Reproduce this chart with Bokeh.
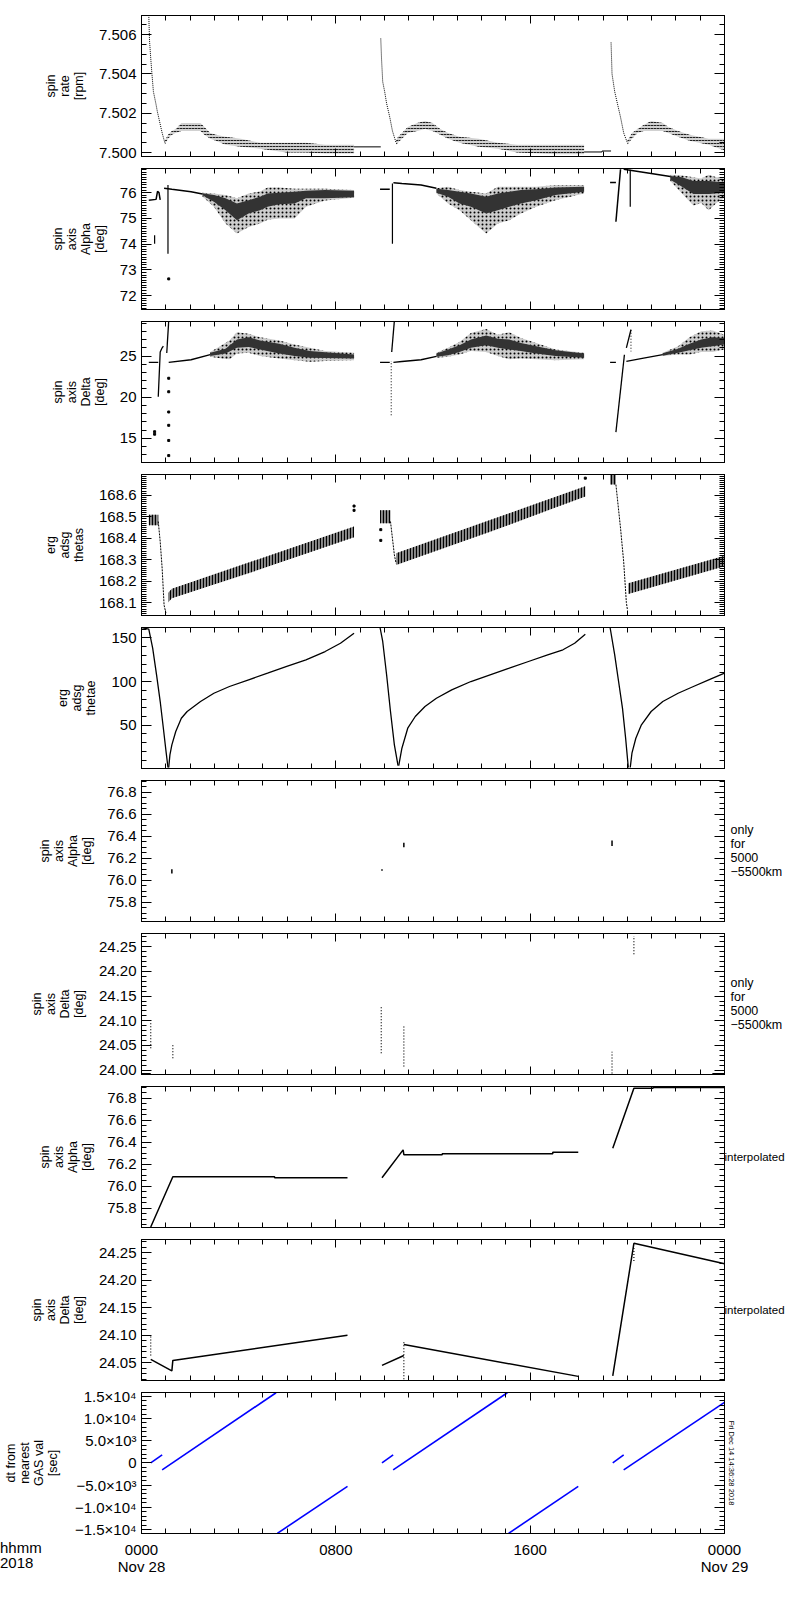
import math
from bokeh.plotting import figure
from bokeh.models import Range1d, LinearAxis, FixedTicker, PrintfTickFormatter, Div
from bokeh.layouts import column
from bokeh.embed import file_html
from bokeh.resources import INLINE

FONT = "Liberation Sans"

# ---------------- x axis (hours since 0000 Nov 28) ----------------
x_major = [0, 8, 16, 24]
x_minor = list(range(25))
x_labels = {0: "0000\nNov 28", 8: "0800", 16: "1600", 24: "0000\nNov 29"}
corner_label = "hhmm<br>2018"
stamp = "Fri Dec 14 14:36:28 2018"

# ---------------- panel 1: spin rate [rpm] ----------------
p1_d1_t = [0.30, 0.33, 0.38, 0.43, 0.49, 0.59, 0.65, 0.74, 0.85, 0.96]
p1_d1_v = [7.5070, 7.5057, 7.5048, 7.5040, 7.5031, 7.5025, 7.5021, 7.5016, 7.5010, 7.5005]
p1_b1_t = [0.96, 1.09, 1.25, 1.41, 1.64, 1.96, 2.43, 2.59, 2.83, 3.06, 3.46, 4.09, 4.88, 5.98, 6.77, 7.56, 8.75]
p1_b1_lo = [7.5004, 7.5007, 7.5009, 7.5010, 7.5011, 7.5011, 7.5011, 7.5009, 7.5007, 7.5006, 7.5004, 7.5003, 7.5002, 7.5000, 7.5000, 7.49995, 7.49995]
p1_b1_hi = [7.5006, 7.5009, 7.5011, 7.5012, 7.5015, 7.5015, 7.5015, 7.5013, 7.5010, 7.5009, 7.5008, 7.5007, 7.5005, 7.5005, 7.5005, 7.5004, 7.5004]
p1_c1_t = [8.75, 9.85]
p1_c1_v = [7.50029, 7.50029]
p1_d2_t = [9.85, 9.88, 9.93, 10.01, 10.09, 10.22, 10.33, 10.48]
p1_d2_v = [7.5058, 7.5048, 7.5036, 7.5031, 7.5025, 7.5018, 7.5011, 7.5005]
p1_b2_t = [10.48, 10.56, 10.72, 10.96, 11.35, 11.67, 11.98, 12.30, 12.62, 13.09, 13.88, 14.67, 15.46, 17.04, 18.22]
p1_b2_lo = [7.5004, 7.5005, 7.5007, 7.5010, 7.5011, 7.5012, 7.5011, 7.5009, 7.5007, 7.5005, 7.5003, 7.5002, 7.5000, 7.49992, 7.49992]
p1_b2_hi = [7.5006, 7.5008, 7.5010, 7.5013, 7.5015, 7.5016, 7.5015, 7.5012, 7.5010, 7.5008, 7.5007, 7.5005, 7.5004, 7.5004, 7.5004]
p1_c2_t = [18.22, 18.96, 18.96, 19.33]
p1_c2_v = [7.50003, 7.50003, 7.50008, 7.50008]
p1_d3_t = [19.33, 19.37, 19.48, 19.59, 19.72, 19.85, 20.00]
p1_d3_v = [7.5056, 7.5040, 7.5031, 7.5025, 7.5018, 7.5010, 7.5005]
p1_b3_t = [20.00, 20.19, 20.42, 20.67, 20.98, 21.46, 21.69, 22.09, 22.56, 23.35, 24.0]
p1_b3_lo = [7.5004, 7.5007, 7.5010, 7.5011, 7.5011, 7.5011, 7.5010, 7.5008, 7.5006, 7.5004, 7.5001]
p1_b3_hi = [7.5006, 7.5010, 7.5012, 7.5014, 7.5016, 7.5015, 7.5013, 7.5011, 7.5009, 7.5007, 7.5007]

# ---------------- panel 2: spin axis Alpha [deg] ----------------
p2_pre1_t = [0.30, 0.60, 0.66, 0.72, 0.77]
p2_pre1_v = [75.71, 75.74, 76.05, 76.00, 75.72]
p2_main1_t = [0.93, 1.25, 2.04, 2.51]
p2_main1_v = [76.17, 76.13, 76.04, 75.95]
p2_o1_t = [2.51, 2.98, 3.46, 3.93, 4.41, 4.88, 5.19, 5.67, 6.30, 6.77, 7.56, 8.75]
p2_o1_lo = [75.85, 75.45, 74.80, 74.41, 74.67, 74.80, 74.95, 75.00, 75.00, 75.45, 75.70, 75.80]
p2_o1_hi = [76.00, 75.97, 75.91, 75.78, 75.97, 76.05, 76.20, 76.20, 76.15, 76.15, 76.15, 76.10]
p2_i1_lo = [75.90, 75.65, 75.32, 74.93, 75.19, 75.32, 75.45, 75.55, 75.58, 75.78, 75.78, 75.82]
p2_i1_hi = [75.98, 75.91, 75.78, 75.58, 75.71, 75.84, 75.97, 76.00, 76.04, 76.08, 76.10, 76.08]
p2_pre2_t = [9.82, 10.22]
p2_pre2_v = [76.13, 76.13]
p2_main2_t = [10.37, 10.72, 11.51, 12.14]
p2_main2_v = [76.39, 76.36, 76.30, 76.17]
p2_o2_t = [12.14, 12.62, 13.09, 13.56, 14.19, 14.67, 15.14, 15.62, 16.25, 17.04, 18.22]
p2_o2_lo = [75.97, 75.58, 75.32, 74.93, 74.41, 74.80, 74.93, 75.19, 75.45, 75.71, 75.97]
p2_o2_hi = [76.17, 76.23, 76.10, 76.04, 75.97, 76.23, 76.23, 76.23, 76.23, 76.30, 76.30]
p2_i2_lo = [76.00, 75.84, 75.58, 75.45, 75.19, 75.32, 75.45, 75.58, 75.71, 75.91, 76.04]
p2_i2_hi = [76.15, 76.10, 76.04, 75.97, 75.84, 75.97, 76.04, 76.10, 76.13, 76.20, 76.23]
p2_pre3_t = [19.29, 19.53]
p2_pre3_v = [76.40, 76.40]
p2_rise3_t = [19.53, 19.72]
p2_rise3_v = [74.87, 76.91]
p2_main3_t = [19.85, 20.98, 21.77]
p2_main3_v = [76.91, 76.75, 76.63]
p2_o3_t = [21.77, 22.25, 22.72, 23.04, 23.35, 23.67, 24.0]
p2_o3_lo = [76.45, 75.97, 75.50, 75.60, 75.32, 75.60, 75.80]
p2_o3_hi = [76.70, 76.67, 76.60, 76.55, 76.70, 76.60, 76.55]
p2_i3_t = [21.77, 22.25, 22.72, 23.35, 24.0]
p2_i3_lo = [76.50, 76.23, 75.95, 75.95, 76.00]
p2_i3_hi = [76.65, 76.60, 76.45, 76.45, 76.40]
p2_drop_t = [1.09, 10.33, 20.12, 0.54]
p2_drop_hi = [76.30, 76.36, 76.89, 74.35]
p2_drop_lo = [73.63, 74.02, 75.45, 74.02]
p2_dot_t = [1.12]
p2_dot_v = [72.65]

# ---------------- panel 3: spin axis Delta [deg] ----------------
p3_pre1_t = [0.30, 0.69]
p3_pre1_v = [24.22, 24.22]
p3_riseA_t = [0.69, 0.77, 0.85, 0.90]
p3_riseA_v = [20.05, 25.5, 26.0, 26.2]
p3_riseB_t = [1.04, 1.12]
p3_riseB_v = [25.37, 29.3]
p3_dots_t = [1.12, 1.12, 1.12, 1.12, 1.12, 1.12, 0.54, 0.54]
p3_dots_v = [22.3, 20.66, 18.2, 16.58, 14.74, 12.9, 15.5, 15.8]
p3_main1_t = [1.12, 2.04, 2.83]
p3_main1_v = [24.22, 24.55, 25.16]
p3_o1_t = [2.83, 3.30, 3.62, 3.93, 4.41, 4.88, 5.67, 6.30, 6.93, 7.56, 8.75]
p3_o1_lo = [24.9, 24.7, 24.6, 25.3, 25.4, 25.0, 24.7, 24.5, 24.3, 24.4, 24.5]
p3_o1_hi = [25.5, 26.3, 26.9, 27.9, 27.7, 27.3, 26.9, 26.4, 26.0, 25.6, 25.4]
p3_i1_t = [2.83, 3.46, 3.93, 4.41, 4.88, 5.67, 6.30, 6.93, 8.75]
p3_i1_lo = [25.0, 25.3, 26.0, 26.1, 25.8, 25.3, 25.0, 24.8, 24.7]
p3_i1_hi = [25.4, 25.9, 27.0, 27.3, 26.9, 26.5, 26.0, 25.6, 25.2]
p3_pre2_t = [9.82, 10.22]
p3_pre2_v = [24.22, 24.22]
p3_dash2_t = [10.28, 10.28]
p3_dash2_v = [17.8, 24.4]
p3_rise2_t = [10.30, 10.41]
p3_rise2_v = [25.5, 29.3]
p3_main2_t = [10.37, 10.72, 11.51, 12.14]
p3_main2_v = [24.22, 24.34, 24.55, 24.95]
p3_o2_t = [12.14, 12.62, 13.09, 13.56, 14.19, 14.67, 15.14, 15.62, 16.25, 17.04, 18.22]
p3_o2_lo = [24.8, 24.9, 25.2, 25.6, 25.5, 25.0, 24.6, 24.7, 24.6, 24.5, 24.6]
p3_o2_hi = [25.4, 26.0, 26.7, 27.8, 28.3, 27.6, 27.9, 27.2, 26.6, 25.8, 25.4]
p3_i2_lo = [24.9, 25.1, 25.5, 26.0, 26.3, 26.0, 25.8, 25.6, 25.3, 25.0, 24.8]
p3_i2_hi = [25.3, 25.8, 26.3, 27.0, 27.5, 27.1, 27.0, 26.6, 26.2, 25.7, 25.3]
p3_pre3_t = [19.29, 19.53]
p3_pre3_v = [24.22, 24.22]
p3_rise3_t = [19.53, 19.88]
p3_rise3_v = [15.75, 25.16]
p3_rise3b_t = [19.96, 20.15]
p3_rise3b_v = [26.0, 28.2]
p3_dash3_t = [20.15, 20.15]
p3_dash3_v = [28.2, 25.56]
p3_main3_t = [19.96, 20.67, 21.46]
p3_main3_v = [24.34, 24.75, 25.16]
p3_o3_t = [21.46, 22.09, 22.56, 23.04, 23.51, 24.0]
p3_o3_lo = [25.0, 25.2, 25.2, 25.5, 25.5, 25.8]
p3_o3_hi = [25.4, 26.2, 27.3, 28.0, 28.1, 27.6]
p3_i3_lo = [25.05, 25.4, 25.7, 26.0, 26.2, 26.4]
p3_i3_hi = [25.35, 25.9, 26.5, 27.0, 27.3, 27.2]

# ---------------- panel 4: erg adsg thetas ----------------
p4_pre1_t = [0.30, 0.69]
p4_pre1_lo = [168.46, 168.46]
p4_pre1_hi = [168.51, 168.51]
p4_drop1_t = [0.69, 0.77, 0.85, 0.93, 1.01]
p4_drop1_v = [168.478, 168.384, 168.26, 168.088, 168.049]
p4_comb1_t = [1.09, 1.25, 4.88, 8.75]
p4_comb1_lo = [168.10, 168.12, 168.255, 168.405]
p4_comb1_hi = [168.145, 168.165, 168.305, 168.455]
p4_pre2_t = [9.82, 10.25]
p4_pre2_lo = [168.47, 168.47]
p4_pre2_hi = [168.53, 168.53]
p4_drop2_t = [10.25, 10.33, 10.41, 10.48]
p4_drop2_v = [168.478, 168.40, 168.322, 168.283]
p4_comb2_t = [10.48, 14.35, 18.27]
p4_comb2_lo = [168.275, 168.43, 168.595]
p4_comb2_hi = [168.33, 168.485, 168.642]
p4_pre3_t = [19.29, 19.53]
p4_pre3_lo = [168.65, 168.65]
p4_pre3_hi = [168.70, 168.70]
p4_drop3_t = [19.53, 19.72, 19.85, 19.96, 20.0]
p4_drop3_v = [168.65, 168.447, 168.29, 168.10, 168.07]
p4_comb3_t = [20.04, 24.0]
p4_comb3_lo = [168.14, 168.27]
p4_comb3_hi = [168.19, 168.318]
p4_dot_t = [8.75, 8.75, 18.27, 9.85, 9.85]
p4_dot_v = [168.55, 168.53, 168.68, 168.44, 168.39]

# ---------------- panel 5: erg adsg thetae ----------------
p5_d1_t = [0.0, 0.30, 0.46, 0.62, 0.77, 0.90, 1.01, 1.09]
p5_d1_v = [161.8, 160.0, 138.1, 107.7, 77.1, 46.6, 19.9, 1.6]
p5_r1_t = [1.12, 1.17, 1.25, 1.41, 1.64, 1.88, 2.43, 2.98, 3.62, 4.41, 5.19, 5.98, 6.77, 7.56, 8.19, 8.75]
p5_r1_v = [1.6, 16.1, 27.6, 42.8, 58.0, 65.7, 77.1, 86.6, 94.3, 102.0, 109.5, 117.2, 124.8, 134.3, 143.8, 155.3]
p5_d2_t = [9.82, 9.93, 10.09, 10.25, 10.41, 10.56]
p5_d2_v = [161.8, 145.8, 107.7, 65.7, 27.6, 3.9]
p5_r2_t = [10.59, 10.72, 10.96, 11.27, 11.67, 12.14, 12.77, 13.56, 14.35, 15.14, 15.93, 16.72, 17.35, 17.83, 18.27]
p5_r2_v = [3.9, 23.7, 46.6, 60.0, 71.4, 80.9, 90.5, 100.0, 107.7, 115.2, 122.9, 130.5, 136.3, 143.8, 154.1]
p5_d3_t = [19.29, 19.48, 19.64, 19.80, 19.93, 20.04]
p5_d3_v = [161.8, 130.5, 100.0, 69.5, 35.1, 1.6]
p5_r3_t = [20.12, 20.19, 20.35, 20.58, 20.98, 21.46, 22.09, 22.72, 23.35, 24.0]
p5_r3_v = [1.6, 18.0, 35.1, 50.5, 65.7, 77.1, 86.6, 94.3, 101.9, 109.5]

# ---------------- panel 6: spin axis Alpha (5000-5500 km only) ----------------
p6_t = [1.25, 9.90, 10.80, 19.37]
p6_lo = [76.06, 76.085, 76.30, 76.31]
p6_hi = [76.10, 76.10, 76.34, 76.36]

# ---------------- panel 7: spin axis Delta (5000-5500 km only) ----------------
p7_t = [0.38, 1.29, 9.87, 10.80, 19.37, 20.27]
p7_lo = [24.044, 24.024, 24.034, 24.007, 23.993, 24.235]
p7_hi = [24.099, 24.054, 24.129, 24.092, 24.037, 24.272]
p7_edge_t0 = [0.0, 23.5]
p7_edge_t1 = [0.38, 24.0]
p7_edge_v = [23.992, 23.992]

# ---------------- panel 8: spin axis Alpha interpolated ----------------
p8_l1_t = [0.38, 1.29, 5.48, 5.48, 8.48]
p8_l1_v = [75.63, 76.086, 76.086, 76.077, 76.077]
p8_l2_t = [9.90, 10.77, 10.80, 12.38, 12.38, 16.93, 16.93, 17.98]
p8_l2_v = [76.077, 76.33, 76.286, 76.286, 76.295, 76.295, 76.307, 76.307]
p8_l3_t = [19.40, 20.27, 21.06, 21.06, 24.0]
p8_l3_v = [76.345, 76.89, 76.89, 76.897, 76.897]

# ---------------- panel 9: spin axis Delta interpolated ----------------
p9_l1_t = [0.38, 1.25, 1.29, 8.48]
p9_l1_v = [24.056, 24.035, 24.054, 24.10]
p9_l2a_t = [9.90, 10.80]
p9_l2a_v = [24.045, 24.063]
p9_l2b_t = [10.80, 17.98]
p9_l2b_v = [24.083, 24.025]
p9_l3_t = [19.40, 20.27, 24.0]
p9_l3_v = [24.026, 24.267, 24.230]
p9_dot_t = [0.38, 10.80, 20.27]
p9_dot_lo = [24.063, 24.02, 24.235]
p9_dot_hi = [24.10, 24.09, 24.26]

# ---------------- panel 10: dt from nearest GAS val [sec] ----------------
p10_t0 = [0.38, 0.85, 5.59, 9.90, 10.36, 15.11, 19.40, 19.85]
p10_v0 = [0, -1588, -15876, 0, -1588, -15876, 0, -1588]
p10_t1 = [0.85, 5.54, 8.48, 10.36, 15.06, 17.98, 19.85, 24.0]
p10_v1 = [1814, 15800, -5291, 1814, 15800, -5291, 1814, 13608]
p10_labels = {-15000: "\u22121.5\u00d710\u2074", -10000: "\u22121.0\u00d710\u2074", -5000: "\u22125.0\u00d710\u00b3",
              0: "0", 5000: "5.0\u00d710\u00b3", 10000: "1.0\u00d710\u2074", 15000: "1.5\u00d710\u2074"}

only_txt = " only\nfor\n5000\n\u22125500km"


def steps(a, b, s):
    n = int(round((b - a) / s))
    return [round(a + s * i, 6) for i in range(n + 1)]


def hide_labels(ax):
    ax.major_label_text_font_size = "0px"
    ax.major_label_standoff = 0
    ax.major_label_text_color = None


def set_orient(ax, o):
    try:
        ax.axis_label_orientation = o
    except Exception:
        pass


def make_fig(yr, ymaj, ymin, yfmt, ylabel, top, bottom, overrides=None, lstand=10, rlabel=None, last=False):
    p = figure(frame_width=583, frame_height=141, x_range=Range1d(0, 24), y_range=Range1d(*yr),
               x_axis_type=None, y_axis_type=None, output_backend="svg", toolbar_location=None,
               min_border_left=129, min_border_right=75, min_border_top=top, min_border_bottom=bottom)
    p.outline_line_color = "black"
    p.background_fill_color = "white"
    p.border_fill_color = "white"
    for loc in ["left", "right", "above", "below"]:
        if loc in ("left", "right"):
            ax = LinearAxis(ticker=FixedTicker(ticks=ymaj, minor_ticks=ymin))
            ax.major_tick_in = 10
        else:
            ax = LinearAxis(ticker=FixedTicker(ticks=x_major, minor_ticks=x_minor))
            ax.major_tick_in = 8
        ax.major_tick_out = 0
        ax.minor_tick_in = 5
        ax.minor_tick_out = 0
        ax.axis_line_color = "black"
        ax.major_tick_line_color = "black"
        ax.minor_tick_line_color = "black"
        ax.major_label_text_font = FONT
        ax.major_label_text_font_size = "15px"
        ax.major_label_text_color = "black"
        if loc == "left":
            if yfmt:
                ax.formatter = PrintfTickFormatter(format=yfmt)
            if overrides:
                ax.major_label_overrides = overrides
            ax.major_label_standoff = 5
            ax.axis_label = ylabel
            ax.axis_label_text_font = FONT
            ax.axis_label_text_font_size = "12.5px"
            ax.axis_label_text_font_style = "normal"
            ax.axis_label_text_line_height = 1.0
            ax.axis_label_text_color = "black"
            ax.axis_label_standoff = lstand
        elif loc == "below" and last:
            ax.major_label_overrides = x_labels
            ax.major_label_standoff = 7
            ax.major_label_text_line_height = 1.0
        else:
            hide_labels(ax)
            if loc == "right" and rlabel:
                text, size, stand, orient = rlabel
                ax.axis_label = text
                ax.axis_label_text_font = FONT
                ax.axis_label_text_font_size = size
                ax.axis_label_text_font_style = "normal"
                ax.axis_label_text_line_height = 1.0
                ax.axis_label_text_color = "black"
                ax.axis_label_standoff = stand
                set_orient(ax, orient)
        p.add_layout(ax, loc)
    return p


def ln(p, t, v, **kw):
    p.line(t, v, line_color=kw.pop("color", "black"), line_width=kw.pop("width", 1), **kw)


def speckle(p, t, lo, hi):
    p.varea(x=t, y1=lo, y2=hi, fill_color="#cdcdcd",
            hatch_pattern="dot", hatch_color="black", hatch_scale=4, hatch_weight=1)


figs = []

# panel 1
p = make_fig((7.4998, 7.50697), [7.500, 7.502, 7.504, 7.506], steps(7.4995, 7.507, 0.0005), "%.3f",
             "spin\nrate\n[rpm]", 15, 6)
for t, lo, hi in [(p1_b1_t, p1_b1_lo, p1_b1_hi), (p1_b2_t, p1_b2_lo, p1_b2_hi), (p1_b3_t, p1_b3_lo, p1_b3_hi)]:
    p.varea(x=t, y1=lo, y2=hi, fill_color="black", fill_alpha=0.18,
            hatch_pattern="horizontal_dash", hatch_color="#222222", hatch_scale=3, hatch_weight=1)
for t, v in [(p1_d1_t, p1_d1_v), (p1_d2_t, p1_d2_v), (p1_d3_t, p1_d3_v)]:
    ln(p, t, v, line_dash="1 1")
ln(p, p1_c1_t, p1_c1_v)
ln(p, p1_c2_t, p1_c2_v)
figs.append(p)

# panel 2
p = make_fig((71.46, 76.94), [72, 73, 74, 75, 76], steps(71.5, 76.9, 0.1), "%d",
             "spin\naxis\nAlpha\n[deg]", 6, 6)
for t, lo, hi in [(p2_o1_t, p2_o1_lo, p2_o1_hi), (p2_o2_t, p2_o2_lo, p2_o2_hi), (p2_o3_t, p2_o3_lo, p2_o3_hi)]:
    speckle(p, t, lo, hi)
for t, lo, hi in [(p2_o1_t, p2_i1_lo, p2_i1_hi), (p2_o2_t, p2_i2_lo, p2_i2_hi), (p2_i3_t, p2_i3_lo, p2_i3_hi)]:
    p.varea(x=t, y1=lo, y2=hi, fill_color="#333333")
for t, v in [(p2_pre1_t, p2_pre1_v), (p2_main1_t, p2_main1_v), (p2_pre2_t, p2_pre2_v), (p2_main2_t, p2_main2_v),
             (p2_pre3_t, p2_pre3_v), (p2_rise3_t, p2_rise3_v), (p2_main3_t, p2_main3_v)]:
    ln(p, t, v, width=1.5)
p.segment(x0=p2_drop_t, y0=p2_drop_lo, x1=p2_drop_t, y1=p2_drop_hi, line_color="black", line_width=1.2)
p.scatter(p2_dot_t, p2_dot_v, marker="square", size=2, color="black")
figs.append(p)

# panel 3
p = make_fig((12.06, 29.2), [15, 20, 25], steps(13, 29, 1), "%d",
             "spin\naxis\nDelta\n[deg]", 6, 6)
for t, lo, hi in [(p3_o1_t, p3_o1_lo, p3_o1_hi), (p3_o2_t, p3_o2_lo, p3_o2_hi), (p3_o3_t, p3_o3_lo, p3_o3_hi)]:
    speckle(p, t, lo, hi)
for t, lo, hi in [(p3_i1_t, p3_i1_lo, p3_i1_hi), (p3_o2_t, p3_i2_lo, p3_i2_hi), (p3_o3_t, p3_i3_lo, p3_i3_hi)]:
    p.varea(x=t, y1=lo, y2=hi, fill_color="#333333")
for t, v in [(p3_pre1_t, p3_pre1_v), (p3_riseA_t, p3_riseA_v), (p3_riseB_t, p3_riseB_v), (p3_main1_t, p3_main1_v),
             (p3_pre2_t, p3_pre2_v), (p3_rise2_t, p3_rise2_v), (p3_main2_t, p3_main2_v),
             (p3_pre3_t, p3_pre3_v), (p3_rise3_t, p3_rise3_v), (p3_rise3b_t, p3_rise3b_v), (p3_main3_t, p3_main3_v)]:
    ln(p, t, v, width=1.3)
ln(p, p3_dash2_t, p3_dash2_v, line_dash="1 2")
ln(p, p3_dash3_t, p3_dash3_v, line_dash="1 2")
p.scatter(p3_dots_t, p3_dots_v, marker="square", size=2, color="black")
figs.append(p)

# panel 4
p = make_fig((168.04, 168.697), [168.1, 168.2, 168.3, 168.4, 168.5, 168.6], steps(168.04, 168.69, 0.01), "%.1f",
             "erg\nadsg\nthetas", 6, 6)
for t, lo, hi in [(p4_pre1_t, p4_pre1_lo, p4_pre1_hi), (p4_comb1_t, p4_comb1_lo, p4_comb1_hi),
                  (p4_pre2_t, p4_pre2_lo, p4_pre2_hi), (p4_comb2_t, p4_comb2_lo, p4_comb2_hi),
                  (p4_pre3_t, p4_pre3_lo, p4_pre3_hi), (p4_comb3_t, p4_comb3_lo, p4_comb3_hi)]:
    p.varea(x=t, y1=lo, y2=hi, fill_color="black", fill_alpha=0.45,
            hatch_pattern="vertical_line", hatch_color="black", hatch_scale=3, hatch_weight=1.2)
for t, v in [(p4_drop1_t, p4_drop1_v), (p4_drop2_t, p4_drop2_v), (p4_drop3_t, p4_drop3_v)]:
    ln(p, t, v, line_dash="2 1")
p.scatter(p4_dot_t, p4_dot_v, marker="square", size=2, color="black")
figs.append(p)

# panel 5
p = make_fig((0.5, 161.8), [50, 100, 150], steps(10, 160, 10), "%d",
             "erg\nadsg\nthetae", 6, 6)
for t, v in [(p5_d1_t, p5_d1_v), (p5_r1_t, p5_r1_v), (p5_d2_t, p5_d2_v), (p5_r2_t, p5_r2_v),
             (p5_d3_t, p5_d3_v), (p5_r3_t, p5_r3_v)]:
    ln(p, t, v, width=1.3)
figs.append(p)

alpha_maj = [75.8, 76.0, 76.2, 76.4, 76.6, 76.8]
alpha_min = steps(75.65, 76.9, 0.05)
delta_maj = [24.00, 24.05, 24.10, 24.15, 24.20, 24.25]
delta_min = steps(23.99, 24.27, 0.01)

# panel 6
p = make_fig((75.625, 76.905), alpha_maj, alpha_min, "%.1f", "spin\naxis\nAlpha\n[deg]", 6, 6,
             rlabel=(only_txt, "12.5px", 6, "horizontal"))
p.segment(x0=p6_t, y0=p6_lo, x1=p6_t, y1=p6_hi, line_color="black", line_width=1.5)
figs.append(p)

# panel 7
p = make_fig((23.991, 24.277), delta_maj, delta_min, "%.2f", "spin\naxis\nDelta\n[deg]", 6, 6,
             rlabel=(only_txt, "12.5px", 6, "horizontal"))
p.segment(x0=p7_t, y0=p7_lo, x1=p7_t, y1=p7_hi, line_color="black", line_width=1.2, line_dash="1 2")
p.segment(x0=p7_edge_t0, y0=p7_edge_v, x1=p7_edge_t1, y1=p7_edge_v, line_color="black", line_width=2)
figs.append(p)

# panel 8
p = make_fig((75.625, 76.905), alpha_maj, alpha_min, "%.1f", "spin\naxis\nAlpha\n[deg]", 6, 6,
             rlabel=("interpolated", "11.5px", 0, "horizontal"))
for t, v in [(p8_l1_t, p8_l1_v), (p8_l2_t, p8_l2_v), (p8_l3_t, p8_l3_v)]:
    ln(p, t, v, width=1.5)
figs.append(p)

# panel 9
p = make_fig((24.0175, 24.274), delta_maj[1:], steps(24.02, 24.27, 0.01), "%.2f", "spin\naxis\nDelta\n[deg]", 6, 6,
             rlabel=("interpolated", "11.5px", 0, "horizontal"))
for t, v in [(p9_l1_t, p9_l1_v), (p9_l2a_t, p9_l2a_v), (p9_l2b_t, p9_l2b_v), (p9_l3_t, p9_l3_v)]:
    ln(p, t, v, width=1.5)
p.segment(x0=p9_dot_t, y0=p9_dot_lo, x1=p9_dot_t, y1=p9_dot_hi, line_color="black", line_width=1.2, line_dash="1 2")
figs.append(p)

# panel 10 (time stamp as a vertical right-side label, centred by the layout)
p = make_fig((-15900, 15850), [-15000, -10000, -5000, 0, 5000, 10000, 15000], steps(-15000, 15000, 1000), None,
             "dt from\nnearest\nGAS val\n[sec]", 6, 6, overrides=p10_labels, lstand=12,
             rlabel=(stamp, "7.5px", 2, "parallel"), last=True)
p.segment(x0=p10_t0, y0=p10_v0, x1=p10_t1, y1=p10_v1, line_color="#0000ff", line_width=1.6)
figs.append(p)

corner = Div(text=corner_label, width=70, height=32, margin=(-37, 0, 0, 0),
             styles={"font-family": FONT, "font-size": "15px", "line-height": "1.0", "color": "black"})
figs.append(corner)

layout = column(*figs, spacing=0)
open("out.html", "w").write(file_html(layout, INLINE))
